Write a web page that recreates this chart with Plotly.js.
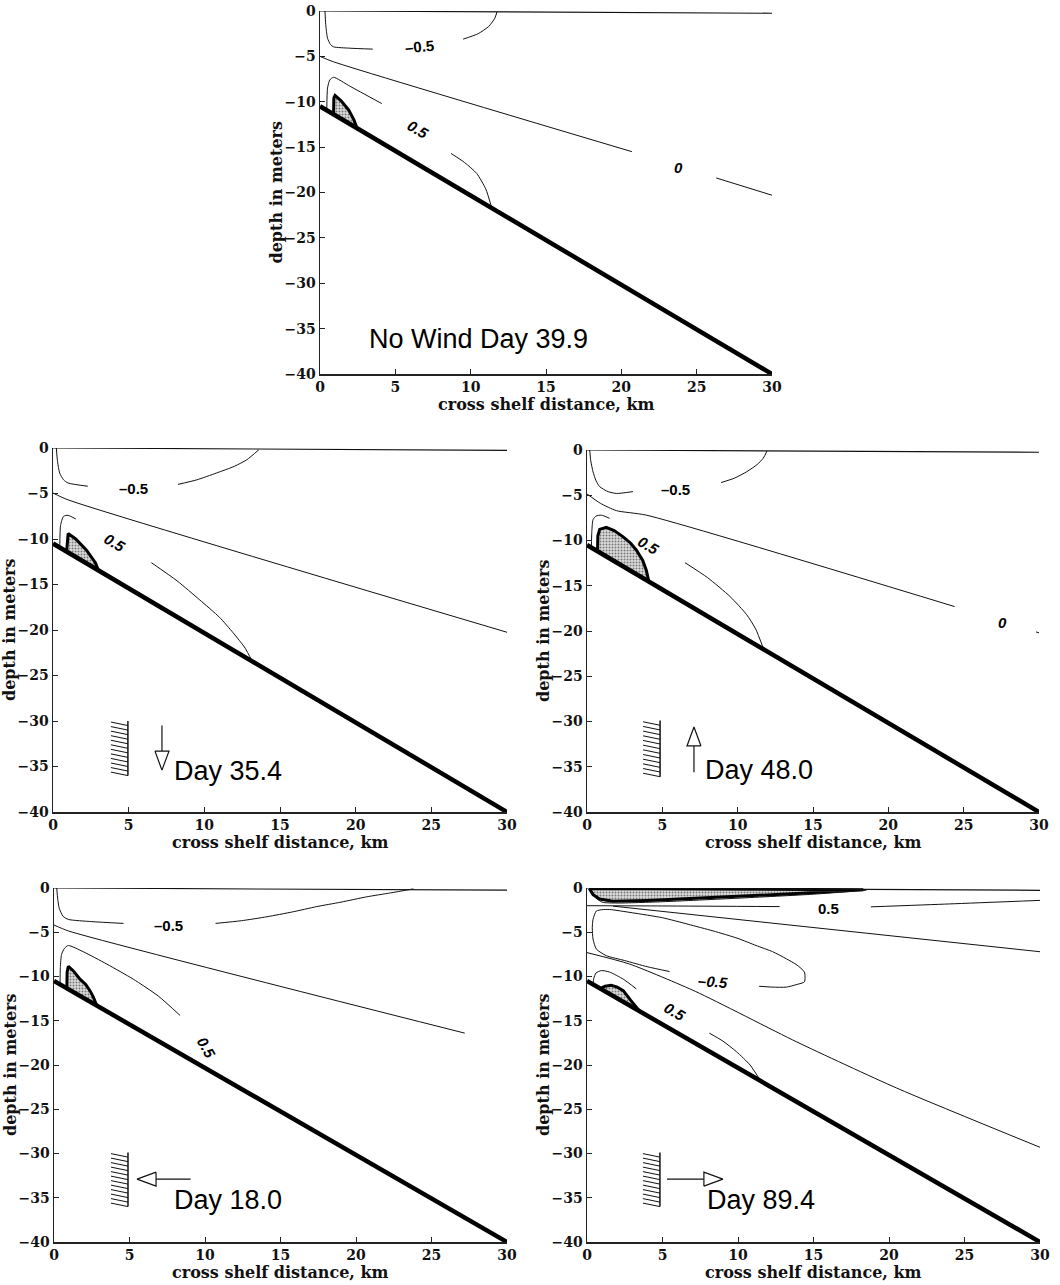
<!DOCTYPE html>
<html>
<head>
<meta charset="utf-8">
<script src="https://cdn.plot.ly/plotly-3.0.1.min.js"></script>
<style>html,body{margin:0;padding:0;background:#fff;}#chart{width:1060px;height:1285px;}</style>
</head>
<body>
<div id="chart"></div>
<script>
// ---------------- data ----------------
const xTicks = [0, 5, 10, 15, 20, 25, 30];
const yTicks = [-40, -35, -30, -25, -20, -15, -10, -5, 0];
const xTitle = "cross shelf distance, km";
const yTitle = "depth in meters";

const bedX = [0, 30];
const bedY = [-10.5, -40];

// Panel A: No Wind Day 39.9
const noWindSurface = [[0, 30], [0, -0.25]];
const noWindContours = [
  [[0.33, 0.38, 0.5, 0.7, 0.9, 2, 3.5], [0, -1.5, -3, -3.7, -3.95, -4.1, -4.2]],
  [[9.5, 10.5, 11.2, 11.6, 11.75], [-3.1, -2.5, -1.7, -0.8, -0.1]],
  [[0, 0.9, 20.7], [-5, -5.6, -15.5]],
  [[26.3, 30], [-18.4, -20.3]],
  [[0.45, 0.5, 0.65, 0.9, 2, 4.1], [-10.9, -8.5, -7.6, -7.3, -8.3, -10.2]],
  [[8.7, 9.6, 10.4, 11.0, 11.4], [-15.7, -16.7, -17.9, -19.6, -21.7]]
];
const noWindShade = [[0.9, 0.92, 1.0, 1.4, 1.9, 2.25, 2.45], [-11.38, -9.6, -9.3, -9.9, -10.9, -12.0, -12.9]];
const noWindLabels = [["\u20130.5", 6.6, -3.9, -5, false], ["0.5", 6.5, -13.1, 30, true], ["0", 23.8, -17.2, 0, true]];

// Panel B: Day 35.4
const day35Surface = [[0, 30], [0, -0.25]];
const day35Contours = [
  [[0.22, 0.3, 0.44, 0.7, 1.0, 2.3], [0, -1.5, -2.75, -3.5, -3.85, -4.2]],
  [[8.26, 9.5, 10.8, 12.0, 12.8, 13.6], [-4.0, -3.5, -2.75, -2.0, -1.3, -0.2]],
  [[0, 1, 30], [-4.95, -5.7, -20.25]],
  [[0.45, 0.5, 0.7, 1.0, 1.5], [-10.8, -8.5, -7.5, -7.4, -7.8]],
  [[6.5, 8.2, 9.7, 11.0, 11.9, 12.7, 13.15], [-12.6, -14.6, -16.7, -18.6, -20.3, -22.0, -23.4]]
];
const day35Shade = [[0.9, 0.95, 1.0, 1.5, 2.2, 2.8, 3.0], [-11.38, -9.6, -9.4, -10.0, -11.2, -12.6, -13.45]];
const day35Labels = [["\u20130.5", 5.3, -4.4, 0, false], ["0.5", 4.07, -10.4, 30, true]];

// Panel C: Day 48.0
const day48Surface = [[0, 30], [0, -0.25]];
const day48Contours = [
  [[0.18, 0.25, 0.4, 0.6, 0.84, 1.4, 1.95, 3.05], [0, -1.2, -2.4, -3.4, -4.05, -4.6, -4.8, -4.6]],
  [[8.9, 9.8, 10.6, 11.3, 11.7, 11.95], [-3.6, -3.1, -2.4, -1.6, -0.9, -0.1]],
  [[0, 0.9, 1.95, 3.94, 24.4], [-4.86, -5.9, -6.7, -7.2, -17.3]],
  [[29.8, 30], [-20.1, -20.2]],
  [[0.29, 0.32, 0.4, 0.6, 0.95, 1.5], [-10.8, -9.0, -7.7, -7.3, -7.2, -7.55]],
  [[6.5, 8.0, 9.5, 10.6, 11.2, 11.7], [-12.45, -14.1, -16.2, -18.2, -19.8, -21.9]]
];
const day48Shade = [[0.7, 0.72, 0.84, 1.28, 1.8, 2.4, 2.9, 3.27, 3.7, 3.94, 4.1], [-11.19, -9.5, -8.77, -8.55, -8.9, -9.6, -10.3, -11.05, -12.2, -13.3, -14.5]];
const day48Labels = [["\u20130.5", 5.9, -4.35, 0, false], ["0.5", 4.1, -10.5, 30, true], ["0", 27.6, -19.1, 0, true]];

// Panel D: Day 18.0
const day18Surface = [[0, 30], [0, -0.25]];
const day18Contours = [
  [[0.18, 0.25, 0.35, 0.6, 0.95, 2.5, 4.6], [0, -1.3, -2.3, -3.2, -3.55, -3.8, -4.0]],
  [[10.7, 12.4, 14.1, 15.8, 17.4, 19.0, 20.7, 22.3, 23.8], [-4.0, -3.7, -3.25, -2.7, -2.1, -1.6, -1.0, -0.55, -0.1]],
  [[0, 0.95, 27.2], [-4.18, -4.85, -16.4]],
  [[0.4, 0.42, 0.5, 0.7, 0.95, 1.94, 3.5, 5.25, 6.9, 8.35], [-10.85, -9.0, -7.5, -6.8, -6.5, -7.2, -8.6, -10.3, -12.2, -14.4]]
];
const day18Shade = [[0.85, 0.87, 0.95, 1.3, 1.72, 2.1, 2.38, 2.6, 2.83], [-11.34, -9.5, -8.84, -9.4, -10.3, -10.9, -11.6, -12.3, -13.28]];
const day18Labels = [["\u20130.5", 7.6, -4.2, 0, false], ["0.5", 10.1, -18.0, 60, true]];

// Panel E: Day 89.4
const day89Surface = [[0, 30], [0, -0.26]];
const day89Contours = [
  [[0.15, 0.5, 1.0, 2, 5, 10, 15, 18.5], [0, -1.0, -1.6, -1.7, -1.55, -1.15, -0.7, -0.25]],
  [[0, 5, 12.76], [-2.0, -2.03, -2.1]],
  [[18.8, 24, 30], [-2.13, -1.8, -1.4]],
  [[1.72, 30], [-2.05, -7.2]],
  [[5.47, 4, 2.5, 1.28, 0.62, 0.4, 0.35, 0.4, 0.62, 1.0, 1.5, 3, 5.0, 6.7, 8.35, 10, 11.2, 12.3, 13.2, 13.9, 14.4, 14.4, 13.9, 13.2, 12.3, 11.4],
   [-9.44, -8.9, -8.2, -7.65, -6.9, -5.78, -4.5, -3.54, -2.6, -2.45, -2.43, -2.8, -3.36, -4.1, -4.85, -5.7, -6.5, -7.2, -8.0, -8.7, -9.5, -10.6, -10.9, -11.2, -11.2, -11.1]],
  [[0, 2.83, 7.2, 13.9, 20.5, 30], [-7.3, -8.6, -11.7, -17.4, -22.6, -29.3]],
  [[0.4, 0.45, 0.6, 0.95, 1.5, 2.4, 3.27], [-10.89, -10.2, -9.6, -9.33, -9.5, -10.3, -11.4]],
  [[8.1, 9.0, 9.9, 10.8, 11.5], [-16.4, -17.3, -18.5, -20.0, -21.8]]
];
const day89Shade = [[0.9, 0.95, 1.2, 1.6, 2.0, 2.4, 2.9, 3.5], [-11.38, -11.3, -11.1, -11.0, -11.2, -11.6, -12.7, -13.94]];
const day89TopShade = [[0.15, 18.3, 13.9, 10, 7.2, 4, 1.7, 0.84, 0.4, 0.15], [-0.05, -0.2, -0.63, -0.95, -1.2, -1.4, -1.5, -1.25, -0.75, -0.05]];
const day89Labels = [["0.5", 16.0, -2.3, 0, false], ["\u20130.5", 8.35, -10.6, 5, true], ["0.5", 5.8, -14.0, 30, true]];

// Panel titles and wind symbols (wind for panels B, C, D, E)
const panelTitles = ["No Wind Day 39.9", "Day 35.4", "Day 48.0", "Day 18.0", "Day 89.4"];
const titleX = [3.12, 7.87, 7.7, 7.8, 7.8];
const titleY = [-36.1, -35.5, -35.4, -35.3, -35.3];
const wallX = [4.95, 4.85, 4.9, 4.83];
const wallTop = [-30, -29.9, -29.9, -29.9];
const wallBot = [-36, -36.1, -36, -36];
const arrowTailX = [7.2, 7.1, 9.05, 5.3];
const arrowTailY = [-30.5, -35.6, -32.9, -32.9];
const arrowTipX = [7.2, 7.1, 5.5, 9.0];
const arrowTipY = [-35.4, -30.6, -32.9, -32.9];

// ---------------- layout helpers ----------------
const W = 1060, H = 1285;
// pixel boxes [left, right, top, bottom]
const boxes = [[320, 772, 11, 374], [53, 507, 448, 812], [587, 1039, 450, 812], [54, 507, 888, 1242], [587, 1040, 888, 1242]];

const panels = [
  {surf: noWindSurface, lines: noWindContours, shades: [noWindShade], labels: noWindLabels},
  {surf: day35Surface, lines: day35Contours, shades: [day35Shade], labels: day35Labels},
  {surf: day48Surface, lines: day48Contours, shades: [day48Shade], labels: day48Labels},
  {surf: day18Surface, lines: day18Contours, shades: [day18Shade], labels: day18Labels},
  {surf: day89Surface, lines: day89Contours, shades: [day89Shade, day89TopShade], labels: day89Labels}
];

const traces = [];
const annotations = [];
const layout = {
  width: W, height: H,
  margin: {l: 0, r: 0, t: 0, b: 0},
  paper_bgcolor: "#ffffff",
  plot_bgcolor: "rgba(0,0,0,0)",
  showlegend: false,
  annotations: annotations
};

const tickFont = {family: "DejaVu Serif", size: 14, color: "#111", weight: "bold"};
const titleFont = {family: "DejaVu Serif", size: 16, color: "#111", weight: "bold"};
const xTitleFontLow = {family: "DejaVu Serif", size: 15, color: "#111", weight: "bold"};

panels.forEach((p, i) => {
  const n = i === 0 ? "" : String(i + 1);
  const xa = "x" + n, ya = "y" + n;
  const b = boxes[i];
  layout["xaxis" + n] = {
    domain: [b[0] / W, b[1] / W], anchor: ya, range: [0, 30],
    tickvals: xTicks, ticks: "inside", ticklen: 5, tickwidth: 1, tickcolor: "#222",
    showline: true, linecolor: "#222", linewidth: 1.5, mirror: false,
    showgrid: false, zeroline: false, tickfont: tickFont
  };
  layout["yaxis" + n] = {
    domain: [1 - b[3] / H, 1 - b[2] / H], anchor: xa, range: [-40, 0],
    tickvals: yTicks, ticks: "inside", ticklen: 5, tickwidth: 1, tickcolor: "#222",
    showline: true, linecolor: "#222", linewidth: 1.5, mirror: false,
    showgrid: false, zeroline: false, tickfont: tickFont
  };
  // axis titles as paper annotations (kept inside the page)
  const low = b[3] + 42 > H - 1;
  const xtBottom = Math.min(b[3] + 42, H - 1);
  annotations.push({
    xref: "paper", yref: "paper", x: (b[0] + b[1]) / 2 / W, y: 1 - xtBottom / H,
    text: xTitle, showarrow: false, xanchor: "center", yanchor: "bottom", font: low ? xTitleFontLow : titleFont
  });
  annotations.push({
    xref: "paper", yref: "paper", x: (b[0] - 44) / W, y: 1 - (b[2] + b[3]) / 2 / H,
    text: yTitle, showarrow: false, textangle: -90, xanchor: "center", yanchor: "middle", font: titleFont
  });

  // shaded regions
  p.shades.forEach(s => {
    traces.push({
      x: s[0], y: s[1], xaxis: xa, yaxis: ya, mode: "lines", fill: "toself",
      fillcolor: "#cfcfcf",
      fillpattern: {shape: ".", fgcolor: "#777777", bgcolor: "#dddddd", size: 3, solidity: 0.35},
      line: {color: "#000", width: 3}, hoverinfo: "skip"
    });
  });
  // surface line
  traces.push({x: p.surf[0], y: p.surf[1], xaxis: xa, yaxis: ya, mode: "lines", line: {color: "#111", width: 1.2}, hoverinfo: "skip"});
  // contour lines
  p.lines.forEach(l => {
    traces.push({x: l[0], y: l[1], xaxis: xa, yaxis: ya, mode: "lines", line: {color: "#111", width: 1, shape: "spline", smoothing: 0.6}, hoverinfo: "skip"});
  });
  // bed
  traces.push({x: bedX, y: bedY, xaxis: xa, yaxis: ya, mode: "lines", line: {color: "#000", width: 4.5}, hoverinfo: "skip"});

  // contour labels
  p.labels.forEach(lb => {
    annotations.push({
      xref: xa, yref: ya, x: lb[1], y: lb[2], text: lb[0], showarrow: false,
      textangle: lb[3], bgcolor: "rgba(0,0,0,0)",
      font: {family: "Liberation Sans", size: 15, color: "#000", weight: "bold", style: lb[4] ? "italic" : "normal"}
    });
  });
  // panel title
  annotations.push({
    xref: xa, yref: ya, x: titleX[i], y: titleY[i], text: panelTitles[i], showarrow: false,
    xanchor: "left", yanchor: "middle",
    font: {family: "Liberation Sans", size: 27, color: "#000"}
  });

  // wind symbols
  if (i > 0) {
    const k = i - 1;
    const pxKm = (b[1] - b[0]) / 30, pxM = (b[3] - b[2]) / 40;
    // wall
    traces.push({x: [wallX[k], wallX[k]], y: [wallTop[k], wallBot[k]], xaxis: xa, yaxis: ya, mode: "lines", line: {color: "#111", width: 1.5}, hoverinfo: "skip"});
    const nh = 12;
    const hx = [], hy = [];
    for (let j = 0; j < nh; j++) {
      const yy = wallTop[k] + (wallBot[k] - wallTop[k]) * (j + 1) / nh;
      hx.push(wallX[k] - 17 / pxKm, wallX[k], null);
      hy.push(yy + 3.5 / pxM, yy, null);
    }
    traces.push({x: hx, y: hy, xaxis: xa, yaxis: ya, mode: "lines", line: {color: "#111", width: 1}, hoverinfo: "skip", connectgaps: false});
    // arrow
    const dxp = (arrowTipX[k] - arrowTailX[k]) * pxKm;
    const dyp = -(arrowTipY[k] - arrowTailY[k]) * pxM;
    const len = Math.hypot(dxp, dyp);
    const ux = dxp / len, uy = dyp / len;
    const headL = 19, headW = 7;
    const bxp = len - headL;
    const baseX = arrowTailX[k] + ux * bxp / pxKm;
    const baseY = arrowTailY[k] - uy * bxp / pxM;
    traces.push({x: [arrowTailX[k], baseX], y: [arrowTailY[k], baseY], xaxis: xa, yaxis: ya, mode: "lines", line: {color: "#111", width: 1.2}, hoverinfo: "skip"});
    const px = -uy, py = ux;
    const t1x = baseX + px * headW / pxKm, t1y = baseY - py * headW / pxM;
    const t2x = baseX - px * headW / pxKm, t2y = baseY + py * headW / pxM;
    traces.push({x: [t1x, arrowTipX[k], t2x, t1x], y: [t1y, arrowTipY[k], t2y, t1y], xaxis: xa, yaxis: ya, mode: "lines", fill: "toself", fillcolor: "#ffffff", line: {color: "#111", width: 1.2}, hoverinfo: "skip"});
  }
});

Plotly.newPlot("chart", traces, layout, {staticPlot: true, displayModeBar: false});
</script>
</body>
</html>
